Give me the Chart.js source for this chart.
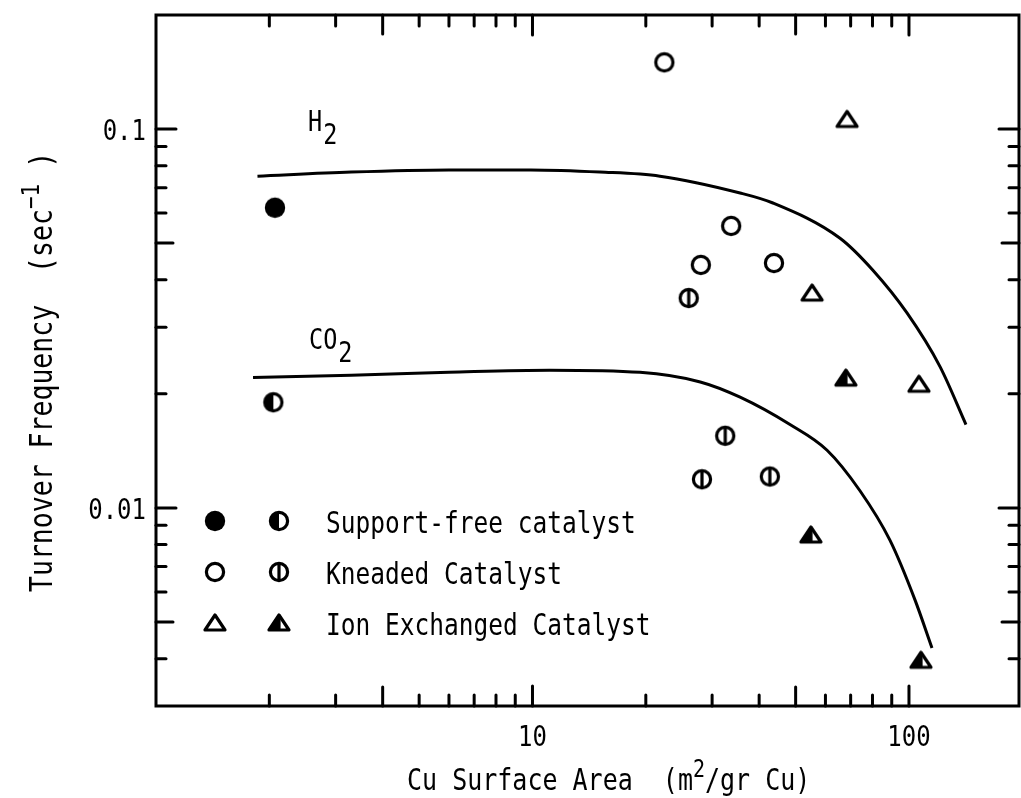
<!DOCTYPE html>
<html>
<head>
<meta charset="utf-8">
<script src="https://cdn.jsdelivr.net/npm/chart.js@4.4.1/dist/chart.umd.min.js"></script>
<style>
  html, body { margin: 0; padding: 0; background: #fff; }
  #wrap { width: 1021px; height: 798px; }
</style>
</head>
<body>
<div id="wrap"><canvas id="tof" width="1021" height="798"></canvas></div>
<script>
// --- data (Cu surface area m2/gr Cu, turnover frequency 1/s) ---
// support-free catalyst
const sfH2X = [2.07];
const sfH2Y = [0.062];
const sfCO2X = [2.05];
const sfCO2Y = [0.019];
// kneaded catalyst
const knH2X = [22.4, 33.7, 28.0, 43.8];
const knH2Y = [0.150, 0.0555, 0.0438, 0.0443];
const knCO2X = [26.0, 32.5, 28.2, 42.7];
const knCO2Y = [0.0358, 0.0155, 0.0119, 0.0121];
// ion exchanged catalyst
const ieH2X = [68.5, 55.3, 106.3];
const ieH2Y = [0.106, 0.0369, 0.0212];
const ieCO2X = [68.0, 54.9, 107.6];
const ieCO2Y = [0.0220, 0.00848, 0.00396];
// hand drawn trend curves
const h2CurveX = [1.86, 3.3, 6.0, 9.9, 15.1, 21.8, 35.6, 43.5, 65.6, 80.2, 98.8, 120.9, 141.7];
const h2CurveY = [0.0751, 0.0770, 0.0780, 0.0780, 0.0770, 0.0751, 0.0678, 0.0638, 0.0515, 0.0424, 0.0327, 0.0236, 0.0166];
const co2CurveX = [1.81, 3.3, 6.0, 11.1, 19.3, 27.9, 35.6, 48.3, 60.6, 74.1, 89.0, 103.8, 115.1];
const co2CurveY = [0.0221, 0.0224, 0.0228, 0.0231, 0.0228, 0.0215, 0.0196, 0.0166, 0.0142, 0.0111, 0.00822, 0.00571, 0.00427];

const xTickLabels = [10, 100];
const yTickLabels = [0.01, 0.1];
const legendLabels = ['Support-free catalyst', 'Kneaded Catalyst', 'Ion Exchanged Catalyst'];

const FONT = '"DejaVu Sans Mono", "Liberation Mono", monospace';

function pts(xs, ys) {
  return xs.map((x, i) => ({ x: x, y: ys[i] }));
}

// marker glyphs as small canvases
function marker(kind) {
  const c = document.createElement('canvas');
  c.width = 30; c.height = 30;
  const g = c.getContext('2d');
  g.strokeStyle = '#000'; g.fillStyle = '#000';
  g.lineWidth = 3.2; g.lineJoin = 'round';
  const cx = 15, cy = 15, r = 8.6;
  if (kind === 'fill') {
    g.beginPath(); g.arc(cx, cy, r + 1.6, 0, 2 * Math.PI); g.fill();
  } else if (kind === 'half' || kind === 'open' || kind === 'bar') {
    if (kind === 'half') {
      g.beginPath(); g.arc(cx, cy, r, Math.PI / 2, 3 * Math.PI / 2); g.closePath(); g.fill();
    }
    g.beginPath(); g.arc(cx, cy, r, 0, 2 * Math.PI); g.stroke();
    if (kind === 'bar') {
      g.beginPath(); g.moveTo(cx, cy - r); g.lineTo(cx, cy + r); g.stroke();
    }
  } else {
    const top = 7, bot = 22, hw = 10;
    if (kind === 'trihalf') {
      g.beginPath(); g.moveTo(cx, top); g.lineTo(cx - hw, bot); g.lineTo(cx, bot); g.closePath(); g.fill();
    }
    g.beginPath(); g.moveTo(cx, top); g.lineTo(cx + hw, bot); g.lineTo(cx - hw, bot); g.closePath(); g.stroke();
    if (kind === 'trihalf') {
      g.beginPath(); g.moveTo(cx, top); g.lineTo(cx, bot + 1); g.stroke();
    }
  }
  return c;
}

const mk = {
  fill: marker('fill'), half: marker('half'),
  open: marker('open'), bar: marker('bar'),
  tri: marker('tri'), trihalf: marker('trihalf')
};

function txt(ctx, s, x, y, size, align, sy) {
  ctx.save();
  ctx.font = size + 'px ' + FONT;
  ctx.textAlign = align || 'left';
  ctx.textBaseline = 'alphabetic';
  ctx.translate(x, y);
  ctx.scale(1, sy || 1.2);
  ctx.fillText(s, 0, 0);
  const w = ctx.measureText(s).width;
  ctx.restore();
  return w;
}

const decor = {
  id: 'decor',
  afterDraw(chart) {
    const ctx = chart.ctx;
    const a = chart.chartArea;
    const xs = chart.scales.x, ys = chart.scales.y;
    ctx.save();
    ctx.strokeStyle = '#000';
    ctx.fillStyle = '#000';

    // frame
    ctx.lineWidth = 3;
    ctx.strokeRect(a.left, a.top, a.right - a.left, a.bottom - a.top);

    // inward ticks
    ctx.lineWidth = 3;
    ctx.lineCap = 'round';
    const xMid = [4, 50], yMid = [0.005, 0.05];
    [1, 10, 100].forEach(d => {
      for (let m = 1; m <= 9; m++) {
        const v = m * d;
        if (v <= xs.min * 1.001 || v >= xs.max * 0.999) continue;
        const p = xs.getPixelForValue(v);
        const len = m === 1 ? 20 : (xMid.includes(v) ? 19 : 11);
        ctx.beginPath(); ctx.moveTo(p, a.bottom); ctx.lineTo(p, a.bottom - len); ctx.stroke();
        ctx.beginPath(); ctx.moveTo(p, a.top); ctx.lineTo(p, a.top + len); ctx.stroke();
      }
    });
    [0.001, 0.01, 0.1].forEach(d => {
      for (let m = 1; m <= 9; m++) {
        const v = +(m * d).toPrecision(3);
        if (v <= ys.min * 1.001 || v >= ys.max * 0.999) continue;
        const p = ys.getPixelForValue(v);
        const len = m === 1 ? 20 : (yMid.includes(v) ? 17 : 10);
        ctx.beginPath(); ctx.moveTo(a.left, p); ctx.lineTo(a.left + len, p); ctx.stroke();
        ctx.beginPath(); ctx.moveTo(a.right, p); ctx.lineTo(a.right - len, p); ctx.stroke();
      }
    });

    // tick labels
    xTickLabels.forEach(v => {
      txt(ctx, String(v), xs.getPixelForValue(v), a.bottom + 40, 24, 'center');
    });
    yTickLabels.forEach(v => {
      txt(ctx, String(v), a.left - 10, ys.getPixelForValue(v) + 11, 24, 'right');
    });

    // x title
    let x = 407;
    const xb = 790;
    x += txt(ctx, 'Cu Surface Area  (m', x, xb, 25);
    x += txt(ctx, '2', x, xb - 13, 20);
    txt(ctx, '/gr Cu)', x, xb, 25);

    // y title (rotated)
    ctx.save();
    ctx.translate(52, 592);
    ctx.rotate(-Math.PI / 2);
    let t = 0;
    t += txt(ctx, 'Turnover Frequency  (sec', t, 0, 26.5);
    t += txt(ctx, '\u2212', t, -13, 21);
    t += txt(ctx, '1', t, -13, 21);
    txt(ctx, ' )', t, 0, 26.5);
    ctx.restore();

    // curve labels
    let hx = 308;
    hx += txt(ctx, 'H', hx, 131, 23.5);
    txt(ctx, '2', hx + 1, 144, 23.5);
    let cx = 309;
    cx += txt(ctx, 'CO', cx, 349, 23.5);
    txt(ctx, '2', cx + 1, 362, 23.5);

    // legend
    const rows = [[mk.fill, mk.half], [mk.open, mk.bar], [mk.tri, mk.trihalf]];
    const rowY = [521, 572, 623];
    rows.forEach((pair, i) => {
      ctx.drawImage(pair[0], 215 - 15, rowY[i] - 15);
      ctx.drawImage(pair[1], 279 - 15, rowY[i] - 15);
      txt(ctx, legendLabels[i], 326, rowY[i] + 12, 24.5);
    });
    ctx.restore();
  }
};

const markerSet = (data, style) => ({
  data: data,
  pointStyle: style,
  pointRadius: 12,
  showLine: false
});

const curveSet = (data) => ({
  data: data,
  showLine: true,
  borderColor: '#000',
  borderWidth: 3,
  pointRadius: 0,
  cubicInterpolationMode: 'monotone',
  fill: false
});

new Chart(document.getElementById('tof'), {
  type: 'scatter',
  data: {
    datasets: [
      markerSet(pts(sfH2X, sfH2Y), mk.fill),
      markerSet(pts(sfCO2X, sfCO2Y), mk.half),
      markerSet(pts(knH2X, knH2Y), mk.open),
      markerSet(pts(knCO2X, knCO2Y), mk.bar),
      markerSet(pts(ieH2X, ieH2Y), mk.tri),
      markerSet(pts(ieCO2X, ieCO2Y), mk.trihalf),
      curveSet(pts(h2CurveX, h2CurveY)),
      curveSet(pts(co2CurveX, co2CurveY))
    ]
  },
  options: {
    responsive: false,
    animation: false,
    layout: { autoPadding: false, padding: { left: 156, right: 2, top: 15, bottom: 92 } },
    plugins: { legend: { display: false }, tooltip: { enabled: false } },
    scales: {
      x: { type: 'logarithmic', min: 1, max: 196, display: false },
      y: { type: 'logarithmic', min: 0.003, max: 0.2, display: false }
    }
  },
  plugins: [decor]
});
</script>
</body>
</html>
